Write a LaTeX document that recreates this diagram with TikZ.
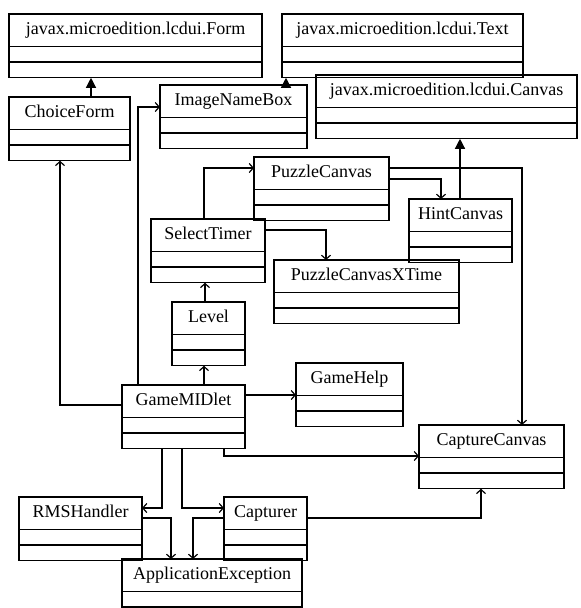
\documentclass[tikz,border=0pt]{standalone}
\usepackage{fontspec}
\setmainfont{Liberation Serif}
\usetikzlibrary{shapes.multipart,arrows.meta}

\tikzset{
	cls/.style={draw, line width=1.2pt, rectangle split, rectangle split parts=3, inner xsep=4pt, inner ysep=5pt, outer sep=0pt, anchor=north west, font=\fontsize{18}{21}\selectfont},
	gen/.style={line width=1.2pt, -{Triangle[length=10pt,width=10pt]}},
	dep/.style={line width=1.2pt, -{Straight Barb[length=4pt,width=9pt]}}
}
\newcommand{\cname}[1]{\rule[-6pt]{0pt}{21pt}#1\nodepart{two}\nodepart{three}}

\begin{document}
\begin{tikzpicture}[x=1pt,y=-1pt]
	\useasboundingbox (0,0) rectangle (581,608);
	\node[cls, minimum width=253pt] (form) at (9,14) {\cname{javax.microedition.lcdui.Form}};
	\node[cls, minimum width=241pt] (text) at (282,14) {\cname{javax.microedition.lcdui.Text}};
	\node[cls, minimum width=261pt] (canvas) at (316,75) {\cname{javax.microedition.lcdui.Canvas}};
	\node[cls, minimum width=147pt] (inb) at (160,85) {\cname{ImageNameBox}};
	\node[cls, minimum width=121pt] (cf) at (9,97) {\cname{ChoiceForm}};
	\node[cls, minimum width=135pt] (pc) at (254,157) {\cname{PuzzleCanvas}};
	\node[cls, minimum width=103pt] (hc) at (409,199) {\cname{HintCanvas}};
	\node[cls, minimum width=114pt] (st) at (151,219) {\cname{SelectTimer}};
	\node[cls, minimum width=185pt] (pcx) at (274,260) {\cname{PuzzleCanvasXTime}};
	\node[cls, minimum width=73pt] (lvl) at (172,302) {\cname{Level}};
	\node[cls, minimum width=123pt] (gm) at (122,385) {\cname{GameMIDlet}};
	\node[cls, minimum width=107pt] (gh) at (296,363) {\cname{GameHelp}};
	\node[cls, minimum width=145pt] (cc) at (419,425) {\cname{CaptureCanvas}};
	\node[cls, minimum width=123pt] (rms) at (19,497) {\cname{RMSHandler}};
	\node[cls, minimum width=83pt] (cap) at (224,497) {\cname{Capturer}};
	\node[cls, minimum width=180pt] (ae) at (122,559) {\cname{ApplicationException}};

	\coordinate (a1) at ([xshift=82pt]cf.north west);
	\draw[gen] (a1) -- (a1 |- form.south);
	\coordinate (a2) at ([xshift=126pt]inb.north west);
	\draw[gen] (a2) -- (a2 |- text.south);
	\coordinate (a3) at ([xshift=51pt]hc.north west);
	\draw[gen] (a3) -- (a3 |- canvas.south);

	\draw[dep] ([yshift=-22pt]pc.north east) -| ([xshift=32pt]hc.north west);
	\draw[dep] ([yshift=-11pt]pc.north east) -| ([xshift=103pt]cc.north west);
	\draw[dep] ([xshift=53pt]st.north west) |- ([yshift=-11pt]pc.north west);
	\draw[dep] ([yshift=-11pt]st.north east) -| ([xshift=52pt]pcx.north west);
	\coordinate (a4) at ([xshift=33pt]lvl.north west);
	\draw[dep] (a4) -- (a4 |- st.south);
	\coordinate (a5) at ([xshift=82pt]gm.north west);
	\draw[dep] (a5) -- (a5 |- lvl.south);
	\draw[dep] ([yshift=-20pt]gm.north west) -| ([xshift=51pt]cf.south west);
	\draw[dep] ([xshift=16pt]gm.north west) |- ([yshift=-22pt]inb.north west);
	\coordinate (a6) at ([yshift=-10pt]gm.north east);
	\draw[dep] (a6) -- (a6 -| gh.west);
	\draw[dep] ([xshift=102pt]gm.south west) |- ([yshift=-31pt]cc.north west);
	\draw[dep] ([xshift=40pt]gm.south west) |- ([yshift=-11pt]rms.north east);
	\draw[dep] ([xshift=60pt]gm.south west) |- ([yshift=-11pt]cap.north west);
	\draw[dep] ([yshift=-21pt]rms.north east) -| ([xshift=49pt]ae.north west);
	\draw[dep] ([yshift=-21pt]cap.north west) -| ([xshift=71pt]ae.north west);
	\draw[dep] ([yshift=-21pt]cap.north east) -| ([xshift=62pt]cc.south west);
\end{tikzpicture}
\end{document}
